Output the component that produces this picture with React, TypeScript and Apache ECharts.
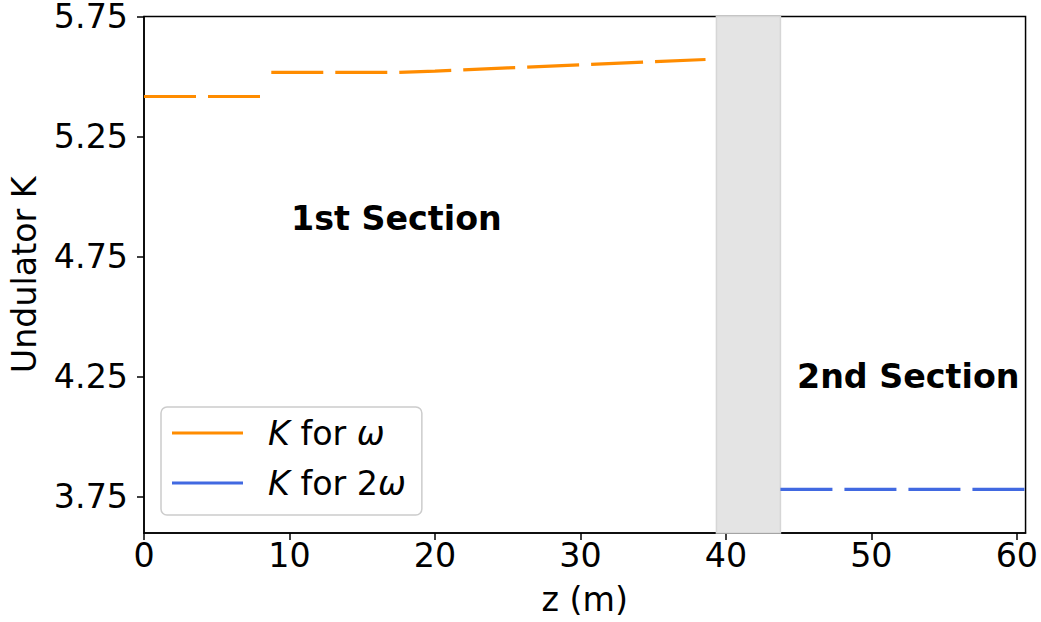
import React, { useEffect, useRef } from "react";
import * as echarts from "echarts";

const xTicks = [0, 10, 20, 30, 40, 50, 60];
const yTicks = [3.75, 4.25, 4.75, 5.25, 5.75];

// K for ω (orange), null marks the break between the two steps
const omegaZ = [0, 8.0, null, 8.75, 17.5, 20, 25, 30, 35, 38.6];
const omegaK = [5.417, 5.417, null, 5.517, 5.517, 5.523, 5.536, 5.549, 5.562, 5.571];

// K for 2ω (blue)
const twoOmegaZ = [43.75, 60.6];
const twoOmegaK = [3.782, 3.782];

// gap between sections (shaded band)
const bandStart = 39.35;
const bandEnd = 43.75;

const FONT = "DejaVu Sans";
const FS = 33.3;

export default function App() {
  const ref = useRef<HTMLDivElement>(null);

  useEffect(() => {
    if (!ref.current) return;
    const chart = echarts.init(ref.current, undefined, { renderer: "svg" });

    const omegaData = omegaZ.map((z, i) => (z === null ? [null, null] : [z, omegaK[i]]));
    const twoData = twoOmegaZ.map((z, i) => [z, twoOmegaK[i]]);

    const legendText = {
      fontSize: FS,
      fontFamily: FONT,
      color: "#000",
      lineHeight: 36,
      padding: [0, 0, 0, 20],
      rich: {
        i: { fontStyle: "italic", fontSize: FS, fontFamily: FONT, color: "#000", lineHeight: 36 },
        n: { fontSize: FS, fontFamily: FONT, color: "#000", lineHeight: 36 },
      },
    };

    chart.setOption({
      animation: false,
      backgroundColor: "#fff",
      textStyle: { fontFamily: FONT },
      grid: {
        left: 143,
        right: 12,
        top: 16,
        bottom: 89,
        show: true,
        borderColor: "#000",
        borderWidth: 1.5,
        backgroundColor: "transparent",
      },
      xAxis: {
        type: "value",
        min: 0,
        max: 60.6,
        name: "z (m)",
        nameLocation: "middle",
        nameGap: 50,
        nameTextStyle: { fontSize: FS, fontFamily: FONT, color: "#000" },
        axisLine: { show: true, lineStyle: { color: "#000", width: 1.5 } },
        axisTick: { show: true, length: 7, lineStyle: { color: "#000", width: 1.5 }, customValues: xTicks },
        axisLabel: { fontSize: FS, fontFamily: FONT, color: "#000", margin: 6, customValues: xTicks, formatter: (v: number) => String(v) },
        splitLine: { show: false },
      },
      yAxis: {
        type: "value",
        min: 3.6,
        max: 5.75,
        name: "Undulator K",
        nameLocation: "middle",
        nameGap: 103,
        nameTextStyle: { fontSize: FS, fontFamily: FONT, color: "#000" },
        axisLine: { show: true, lineStyle: { color: "#000", width: 1.5 } },
        axisTick: { show: true, length: 7, lineStyle: { color: "#000", width: 1.5 }, customValues: yTicks },
        axisLabel: { fontSize: FS, lineHeight: 30, fontFamily: FONT, color: "#000", margin: 16, customValues: yTicks, formatter: (v: number) => v.toFixed(2) },
        splitLine: { show: false },
      },
      legend: {
        orient: "vertical",
        left: 161,
        top: 407,
        padding: [8, 16, 14, 11],
        itemGap: 14,
        itemWidth: 71,
        itemHeight: 3,
        backgroundColor: "#fff",
        borderColor: "#cccccc",
        borderWidth: 1.5,
        borderRadius: 6,
        data: [
          { name: "omega", icon: "rect" },
          { name: "twoOmega", icon: "rect" },
        ],
        formatter: (name: string) =>
          name === "omega" ? "{i|K}{n| for }{i|ω}" : "{i|K}{n| for 2}{i|ω}",
        textStyle: legendText,
      },
      graphic: [
        {
          type: "text",
          left: 291,
          top: 202,
          style: { text: "1st Section", font: `bold ${FS}px "${FONT}"`, fill: "#000" },
        },
        {
          type: "text",
          left: 797,
          top: 360,
          style: { text: "2nd Section", font: `bold ${FS}px "${FONT}"`, fill: "#000" },
        },
      ],
      series: [
        {
          name: "band",
          type: "line",
          data: [],
          silent: true,
          markArea: {
            silent: true,
            itemStyle: { color: "#e4e4e4", borderColor: "#d6d6d6", borderWidth: 1.5 },
            data: [[{ xAxis: bandStart }, { xAxis: bandEnd }]],
          },
          z: 1,
        },
        {
          name: "omega",
          type: "line",
          data: omegaData,
          showSymbol: false,
          connectNulls: false,
          color: "#ff8c00",
          lineStyle: { color: "#ff8c00", width: 3.2, type: [52, 12] },
          z: 3,
        },
        {
          name: "twoOmega",
          type: "line",
          data: twoData,
          showSymbol: false,
          color: "#4169e1",
          lineStyle: { color: "#4169e1", width: 3.2, type: [52, 12] },
          z: 3,
        },
      ],
    });

    return () => chart.dispose();
  }, []);

  return (
    <div
      ref={ref}
      style={{ position: "absolute", left: 0, top: 0, width: 1041, height: 622 }}
    />
  );
}
